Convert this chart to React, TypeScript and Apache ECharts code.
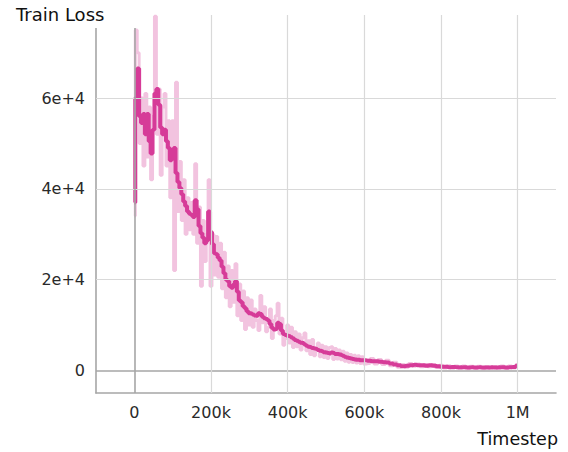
import React, { useEffect, useRef } from "react";
import * as echarts from "echarts";

// Timesteps: every 5k up to 600k, then every 10k
const steps0 = [
  0, 5000, 10000, 15000, 20000, 25000, 30000, 35000, 40000, 45000,
  50000, 55000, 60000, 65000, 70000, 75000, 80000, 85000, 90000, 95000,
  100000, 105000, 110000, 115000, 120000, 125000, 130000, 135000, 140000, 145000,
  150000, 155000, 160000, 165000, 170000, 175000, 180000, 185000, 190000, 195000,
  200000, 205000, 210000, 215000, 220000, 225000, 230000, 235000, 240000, 245000,
  250000, 255000, 260000, 265000, 270000, 275000, 280000, 285000, 290000, 295000,
  300000,
];
const steps1 = [
  305000, 310000, 315000, 320000, 325000, 330000, 335000, 340000, 345000, 350000,
  355000, 360000, 365000, 370000, 375000, 380000, 385000, 390000, 395000, 400000,
  405000, 410000, 415000, 420000, 425000, 430000, 435000, 440000, 445000, 450000,
  455000, 460000, 465000, 470000, 475000, 480000, 485000, 490000, 495000, 500000,
  505000, 510000, 515000, 520000, 525000, 530000, 535000, 540000, 545000, 550000,
  555000, 560000, 565000, 570000, 575000, 580000, 585000, 590000, 595000, 600000,
];
const steps2 = [
  610000, 620000, 630000, 640000, 650000, 660000, 670000, 680000, 690000, 700000,
  710000, 720000, 730000, 740000, 750000, 760000, 770000, 780000, 790000, 800000,
  810000, 820000, 830000, 840000, 850000, 860000, 870000, 880000, 890000, 900000,
  910000, 920000, 930000, 940000, 950000, 960000, 970000, 980000, 990000, 1000000,
];

// Smoothed loss (dark line)
const smooth0 = [
  37000, 60000, 66500, 56000, 54500, 56500, 52000, 56500, 50500, 47800,
  53000, 61000, 62000, 58500, 53500, 52000, 53000, 50500, 49000, 46300,
  48500, 49000, 43500, 41500, 40200, 38800, 37200, 36200, 35000, 34500,
  34200, 33800, 37500, 35500, 31800, 30200, 29200, 28000, 28600, 35000,
  30500, 27800, 25800, 25600, 24800, 24200, 22800, 21400, 20000, 19600,
  18500, 18200, 18900, 19600, 17300, 15400, 15000, 14100, 13700, 13000,
  12600,
];
const smooth1 = [
  12500, 12300, 12100, 12000, 12600, 12400, 11800, 11500, 11300, 11000,
  10200, 9400, 9000, 9100, 10500, 10200, 8800, 8000, 7800, 7600,
  7500, 7300, 7000, 6700, 6500, 6300, 6100, 6000, 5700, 5400,
  5200, 5100, 4900, 4800, 4700, 4500, 4300, 4200, 4000, 3900,
  3800, 3700, 3900, 3800, 3600, 3600, 3500, 3400, 3200, 3000,
  2800, 2700, 2600, 2500, 2400, 2300, 2300, 2200, 2200, 2200,
];
const smooth2 = [
  2100, 2000, 2000, 1900, 1800, 1700, 1500, 1300, 1100, 900,
  1000, 1100, 1200, 1100, 1100, 1000, 1100, 1000, 900, 800,
  800, 700, 750, 700, 650, 700, 600, 650, 600, 650,
  600, 600, 650, 600, 650, 700, 600, 700, 750, 1000,
];

// Raw loss (light line)
const raw0 = [
  34000, 75000, 70000, 50000, 60000, 45000, 61000, 47000, 58000, 42000,
  56000, 78000, 52000, 62000, 43000, 58000, 61000, 45000, 55000, 38000,
  55000, 22000, 63500, 35000, 46000, 33000, 42000, 30000, 38000, 31000,
  37000, 30000, 45500, 28000, 36000, 18500, 33000, 24000, 30000, 42000,
  18500, 30000, 21000, 29500, 20500, 28000, 18000, 26000, 16000, 23000,
  14000, 22000, 15000, 23500, 12000, 19000, 11000, 17500, 9000, 16000,
  10000,
];
const raw1 = [
  15500, 9500, 13500, 11000, 8800, 16500, 10500, 14000, 8500, 9500,
  13500, 7000, 11000, 12000, 14800, 8000, 11500, 5500, 7000, 10000,
  6000, 9500, 5000, 8500, 5200, 8000, 4500, 7200, 8200, 4300,
  6500, 3500, 6800, 3200, 4500, 6000, 3000, 5500, 2800, 5200,
  2600, 5000, 5200, 2400, 4800, 2500, 4500, 2300, 4200, 2000,
  3800, 1800, 3500, 1700, 3300, 1600, 3200, 1500, 3000, 1400,
];
const raw2 = [
  1500, 2600, 1400, 2400, 1300, 2200, 1000, 1800, 700, 1300,
  700, 1500, 900, 1400, 800, 1300, 800, 1300, 600, 1100,
  500, 1000, 450, 950, 400, 950, 350, 900, 400, 900,
  350, 850, 400, 850, 400, 950, 400, 950, 500, 1200,
];

const yTickValues = [0, 20000, 40000, 60000];
const yTickLabels = ["0", "2e+4", "4e+4", "6e+4"];
const xTickValues = [0, 200000, 400000, 600000, 800000, 1000000];
const xTickLabels = ["0", "200k", "400k", "600k", "800k", "1M"];

const FONT = "'DejaVu Sans', 'Liberation Sans', sans-serif";

export default function App() {
  const ref = useRef<HTMLDivElement>(null);

  useEffect(() => {
    if (!ref.current) return;
    const chart = echarts.init(ref.current, undefined, { renderer: "svg" });
    const steps = [...steps0, ...steps1, ...steps2];
    const smooth = [...smooth0, ...smooth1, ...smooth2];
    const raw = [...raw0, ...raw1, ...raw2];

    const gridColor = "#d9d9d9";
    const zeroColor = "#a6a6a6";

    const gridMarks: any[] = [];
    yTickValues.forEach((v) => {
      gridMarks.push({
        yAxis: v,
        lineStyle: { color: v === 0 ? zeroColor : gridColor, width: v === 0 ? 1.6 : 1.2, type: "solid" },
      });
    });
    xTickValues.forEach((v) => {
      gridMarks.push({
        xAxis: v,
        lineStyle: { color: v === 0 ? zeroColor : gridColor, width: v === 0 ? 1.6 : 1.2, type: "solid" },
      });
    });

    const labelStyle = {
      color: "#2a2a2a",
      fontSize: 16,
      fontFamily: FONT,
      margin: 11,
    };

    chart.setOption({
      animation: false,
      backgroundColor: "#ffffff",
      grid: { left: 96, right: 12, top: 15, bottom: 59, containLabel: false },
      xAxis: {
        type: "value",
        min: -100000,
        max: 1100000,
        splitLine: { show: false },
        axisTick: { show: false },
        axisLine: { show: true, onZero: false, lineStyle: { color: zeroColor, width: 1.6 } },
        axisLabel: {
          ...labelStyle,
          customValues: xTickValues,
          formatter: (v: number) => {
            const i = xTickValues.indexOf(v);
            return i >= 0 ? xTickLabels[i] : "";
          },
        },
      },
      yAxis: {
        type: "value",
        min: -5000,
        max: 78300,
        splitLine: { show: false },
        axisTick: { show: false },
        axisLine: { show: true, onZero: false, lineStyle: { color: zeroColor, width: 1.6 } },
        axisLabel: {
          ...labelStyle,
          align: "right",
          customValues: yTickValues,
          formatter: (v: number) => {
            const i = yTickValues.indexOf(v);
            return i >= 0 ? yTickLabels[i] : "";
          },
        },
      },
      series: [
        {
          type: "line",
          name: "grid",
          data: [],
          z: 1,
          silent: true,
          markLine: {
            silent: true,
            symbol: "none",
            label: { show: false },
            data: gridMarks,
          },
        },
        {
          type: "line",
          name: "raw",
          step: "middle",
          data: steps.map((t, i) => [t, raw[i]]),
          showSymbol: false,
          z: 2,
          lineStyle: { color: "#f2c3df", width: 3 },
          itemStyle: { color: "#f2c3df" },
        },
        {
          type: "line",
          name: "smoothed",
          step: "middle",
          data: steps.map((t, i) => [t, smooth[i]]),
          showSymbol: false,
          z: 3,
          lineStyle: { color: "#d63b98", width: 4 },
          itemStyle: { color: "#d63b98" },
        },
      ],
      graphic: [
        {
          type: "rect",
          left: 0,
          top: 0,
          shape: { width: 142, height: 28 },
          style: { fill: "#ffffff" },
          z: 100,
        },
        {
          type: "text",
          left: 16,
          top: 5,
          z: 101,
          style: { text: "Train Loss", fontSize: 18, fontFamily: FONT, fill: "#111" },
        },
        {
          type: "text",
          right: 10,
          top: 430,
          z: 101,
          style: { text: "Timestep", fontSize: 17.5, fontFamily: FONT, fill: "#111" },
        },
      ],
    });
    return () => chart.dispose();
  }, []);

  return (
    <div
      ref={ref}
      style={{ width: 568, height: 452, position: "absolute", left: 0, top: 0 }}
    />
  );
}
